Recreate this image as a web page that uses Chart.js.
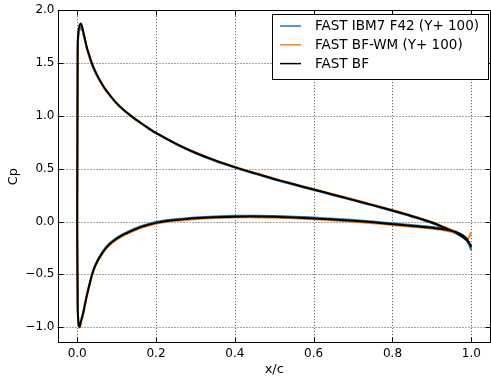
<!DOCTYPE html>
<html>
<head>
<meta charset="utf-8">
<script src="https://cdn.jsdelivr.net/npm/chart.js@4/dist/chart.umd.min.js"></script>
<style>
  html, body { margin: 0; padding: 0; background: #fff; }
  #c { display: block; }
</style>
</head>
<body>
<canvas id="c" width="491" height="381"></canvas>
<script>
// Chordwise stations (leading edge -> trailing edge)
const xUpper = [0, 0.0005, 0.001, 0.0015, 0.003, 0.005, 0.007, 0.009, 0.011, 0.014, 0.017, 0.02, 0.025, 0.03, 0.035, 0.04, 0.05, 0.06, 0.07, 0.08, 0.1, 0.12, 0.14, 0.16, 0.18, 0.2, 0.25, 0.3, 0.35, 0.4, 0.45, 0.5, 0.55, 0.6, 0.65, 0.7, 0.75, 0.8, 0.85, 0.9, 0.93, 0.96, 0.98, 0.99, 1];
const xLower = [0, 0.0005, 0.001, 0.0015, 0.003, 0.005, 0.0065, 0.008, 0.01, 0.013, 0.016, 0.02, 0.023, 0.027, 0.03, 0.035, 0.04, 0.045, 0.05, 0.057, 0.07, 0.08, 0.09, 0.1, 0.11, 0.12, 0.133, 0.15, 0.17, 0.185, 0.2, 0.225, 0.25, 0.3, 0.35, 0.4, 0.45, 0.5, 0.55, 0.6, 0.65, 0.7, 0.75, 0.8, 0.85, 0.9, 0.93, 0.96, 0.98, 0.99, 1];

// FAST IBM7 F42 (Y+ 100)
const cpUpperIBM = [0.0, 0.75, 1.35, 1.65, 1.76, 1.80, 1.825, 1.835, 1.83, 1.80, 1.755, 1.71, 1.63, 1.57, 1.51, 1.46, 1.38, 1.315, 1.255, 1.205, 1.115, 1.045, 0.985, 0.932, 0.881, 0.833, 0.733, 0.646, 0.573, 0.51, 0.453, 0.398, 0.347, 0.298, 0.249, 0.2, 0.15, 0.099, 0.045, -0.015, -0.06, -0.11, -0.155, -0.19, -0.27];
const cpLowerIBM = [0.0, -0.4, -0.64, -0.84, -0.945, -0.985, -0.987, -0.962, -0.932, -0.892, -0.847, -0.772, -0.717, -0.652, -0.607, -0.532, -0.467, -0.417, -0.377, -0.329, -0.257, -0.214, -0.182, -0.155, -0.132, -0.112, -0.089, -0.062, -0.035, -0.019, -0.005, 0.011, 0.022, 0.038, 0.048, 0.054, 0.055, 0.052, 0.046, 0.037, 0.026, 0.014, 0.0, -0.017, -0.034, -0.052, -0.067, -0.095, -0.135, -0.18, -0.27];

// FAST BF-WM (Y+ 100)
const cpUpperWM = [0.0, 0.8, 1.4, 1.7, 1.79, 1.835, 1.86, 1.87, 1.855, 1.815, 1.765, 1.715, 1.635, 1.575, 1.515, 1.465, 1.385, 1.318, 1.258, 1.208, 1.118, 1.048, 0.988, 0.936, 0.886, 0.839, 0.74, 0.654, 0.581, 0.518, 0.461, 0.406, 0.356, 0.307, 0.258, 0.21, 0.16, 0.11, 0.056, -0.004, -0.05, -0.1, -0.145, -0.17, -0.10];
const cpLowerWM = [0.0, -0.4, -0.65, -0.86, -0.965, -1.003, -1.003, -0.978, -0.948, -0.908, -0.863, -0.788, -0.733, -0.668, -0.623, -0.548, -0.483, -0.433, -0.393, -0.345, -0.273, -0.23, -0.198, -0.171, -0.148, -0.128, -0.105, -0.078, -0.051, -0.035, -0.021, -0.005, 0.006, 0.022, 0.032, 0.038, 0.039, 0.036, 0.03, 0.021, 0.01, -0.002, -0.016, -0.033, -0.05, -0.068, -0.082, -0.108, -0.142, -0.175, -0.24];

// FAST BF
const cpUpperBF = [0.0, 0.8, 1.4, 1.7, 1.8, 1.84, 1.865, 1.875, 1.86, 1.82, 1.77, 1.72, 1.64, 1.58, 1.52, 1.47, 1.39, 1.32, 1.26, 1.21, 1.12, 1.05, 0.99, 0.937, 0.886, 0.838, 0.738, 0.651, 0.578, 0.515, 0.458, 0.403, 0.352, 0.303, 0.254, 0.205, 0.155, 0.104, 0.05, -0.01, -0.055, -0.105, -0.15, -0.18, -0.24];
const cpLowerBF = [0.0, -0.4, -0.65, -0.85, -0.955, -0.995, -0.995, -0.97, -0.94, -0.9, -0.855, -0.78, -0.725, -0.66, -0.615, -0.54, -0.475, -0.425, -0.385, -0.337, -0.265, -0.222, -0.19, -0.163, -0.14, -0.12, -0.097, -0.07, -0.043, -0.027, -0.013, 0.003, 0.014, 0.030, 0.040, 0.046, 0.047, 0.044, 0.038, 0.029, 0.018, 0.006, -0.008, -0.025, -0.042, -0.06, -0.074, -0.1, -0.135, -0.17, -0.24];

const seriesLabels = ['FAST IBM7 F42 (Y+ 100)', 'FAST BF-WM (Y+ 100)', 'FAST BF'];
const seriesColors = ['#1f77b4', '#ff7f0e', '#000000'];

const xTicks = [0.0, 0.2, 0.4, 0.6, 0.8, 1.0];
const yTicks = [-1.0, -0.5, 0.0, 0.5, 1.0, 1.5, 2.0];

const FONT = '"DejaVu Sans", "Liberation Sans", sans-serif';

// Closed contour: upper surface TE -> LE, then lower surface LE -> TE
function contour(cpUp, cpLo) {
  const pts = [];
  for (let i = xUpper.length - 1; i >= 0; i--) pts.push({ x: xUpper[i], y: cpUp[i] });
  for (let i = 1; i < xLower.length; i++) pts.push({ x: xLower[i], y: cpLo[i] });
  return pts;
}

const fmt = v => (v < 0 ? '\u2212' : '') + Math.abs(v).toFixed(1);

// Dotted grid, boxed frame with inward ticks, and an in-plot legend
const framePlugin = {
  id: 'frame',
  beforeDatasetsDraw(chart) {
    const { ctx, chartArea: a, scales: { x, y } } = chart;
    ctx.save();
    ctx.strokeStyle = 'rgba(0,0,0,0.7)';
    ctx.lineWidth = 1;
    ctx.setLineDash([1, 2]);
    xTicks.forEach(v => {
      const px = Math.round(x.getPixelForValue(v)) + 0.5;
      ctx.beginPath(); ctx.moveTo(px, a.top); ctx.lineTo(px, a.bottom); ctx.stroke();
    });
    yTicks.forEach(v => {
      const py = Math.round(y.getPixelForValue(v)) + 0.5;
      ctx.beginPath(); ctx.moveTo(a.left, py); ctx.lineTo(a.right, py); ctx.stroke();
    });
    ctx.restore();
  },
  afterDatasetsDraw(chart) {
    const { ctx, chartArea: a, scales: { x, y } } = chart;
    ctx.save();
    ctx.setLineDash([]);
    ctx.strokeStyle = '#000';
    ctx.lineWidth = 1;
    const L = Math.round(a.left) + 0.5, R = Math.round(a.right) - 0.5;
    const T = Math.round(a.top) + 0.5, B = Math.round(a.bottom) - 0.5;
    ctx.strokeRect(L, T, R - L, B - T);
    const tl = 5;
    ctx.beginPath();
    xTicks.forEach(v => {
      const px = Math.round(x.getPixelForValue(v)) + 0.5;
      ctx.moveTo(px, B); ctx.lineTo(px, B - tl);
      ctx.moveTo(px, T); ctx.lineTo(px, T + tl);
    });
    yTicks.forEach(v => {
      const py = Math.round(y.getPixelForValue(v)) + 0.5;
      ctx.moveTo(L, py); ctx.lineTo(L + tl, py);
      ctx.moveTo(R, py); ctx.lineTo(R - tl, py);
    });
    ctx.stroke();

    // legend box
    const bx = 272.5, by = 14.5, bw = 216, bh = 65;
    ctx.fillStyle = '#fff';
    ctx.fillRect(bx, by, bw, bh);
    ctx.strokeRect(bx, by, bw, bh);
    ctx.font = '13.5px ' + FONT;
    ctx.textBaseline = 'middle';
    ctx.textAlign = 'left';
    chart.data.datasets.forEach((ds, i) => {
      const ry = 26 + i * 18.8;
      ctx.strokeStyle = ds.borderColor;
      ctx.lineWidth = 1.5;
      ctx.beginPath(); ctx.moveTo(280, ry); ctx.lineTo(301, ry); ctx.stroke();
      ctx.fillStyle = '#000';
      ctx.fillText(ds.label, 315, ry + 0.5);
    });
    ctx.restore();
  }
};

const datasets = [
  { label: seriesLabels[0], data: contour(cpUpperIBM, cpLowerIBM), borderColor: seriesColors[0], order: 3 },
  { label: seriesLabels[1], data: contour(cpUpperWM, cpLowerWM), borderColor: seriesColors[1], order: 2 },
  { label: seriesLabels[2], data: contour(cpUpperBF, cpLowerBF), borderColor: seriesColors[2], order: 1 }
].map(d => Object.assign(d, {
  showLine: true, fill: false, pointRadius: 0, pointHoverRadius: 0,
  borderWidth: 2, tension: 0.3, backgroundColor: d.borderColor
}));

new Chart(document.getElementById('c'), {
  type: 'scatter',
  data: { datasets },
  options: {
    responsive: false,
    animation: false,
    devicePixelRatio: 1,
    layout: { padding: { top: 10, right: 0, left: 0, bottom: 0 } },
    plugins: { legend: { display: false }, tooltip: { enabled: false } },
    scales: {
      x: {
        type: 'linear', min: -0.05, max: 1.05,
        afterBuildTicks: s => { s.ticks = xTicks.map(v => ({ value: v })); },
        afterFit: s => { s.height = 38; },
        grid: { display: false, drawTicks: false },
        border: { display: false },
        ticks: { color: '#000', font: { family: FONT, size: 12 }, padding: 4, maxRotation: 0, callback: v => fmt(v) },
        title: { display: true, text: 'x/c', color: '#000', font: { family: FONT, size: 13 }, padding: { top: 2, bottom: 4 } }
      },
      y: {
        type: 'linear', min: -1.15, max: 2.0,
        afterBuildTicks: s => { s.ticks = yTicks.map(v => ({ value: v })); },
        afterFit: s => { s.width = 57.5; },
        grid: { display: false, drawTicks: false },
        border: { display: false },
        ticks: { color: '#000', font: { family: FONT, size: 12 }, padding: 3, callback: v => fmt(v) },
        title: { display: true, text: 'Cp', color: '#000', font: { family: FONT, size: 13 }, padding: { top: 6, bottom: 0 } }
      }
    }
  },
  plugins: [framePlugin]
});
</script>
</body>
</html>
